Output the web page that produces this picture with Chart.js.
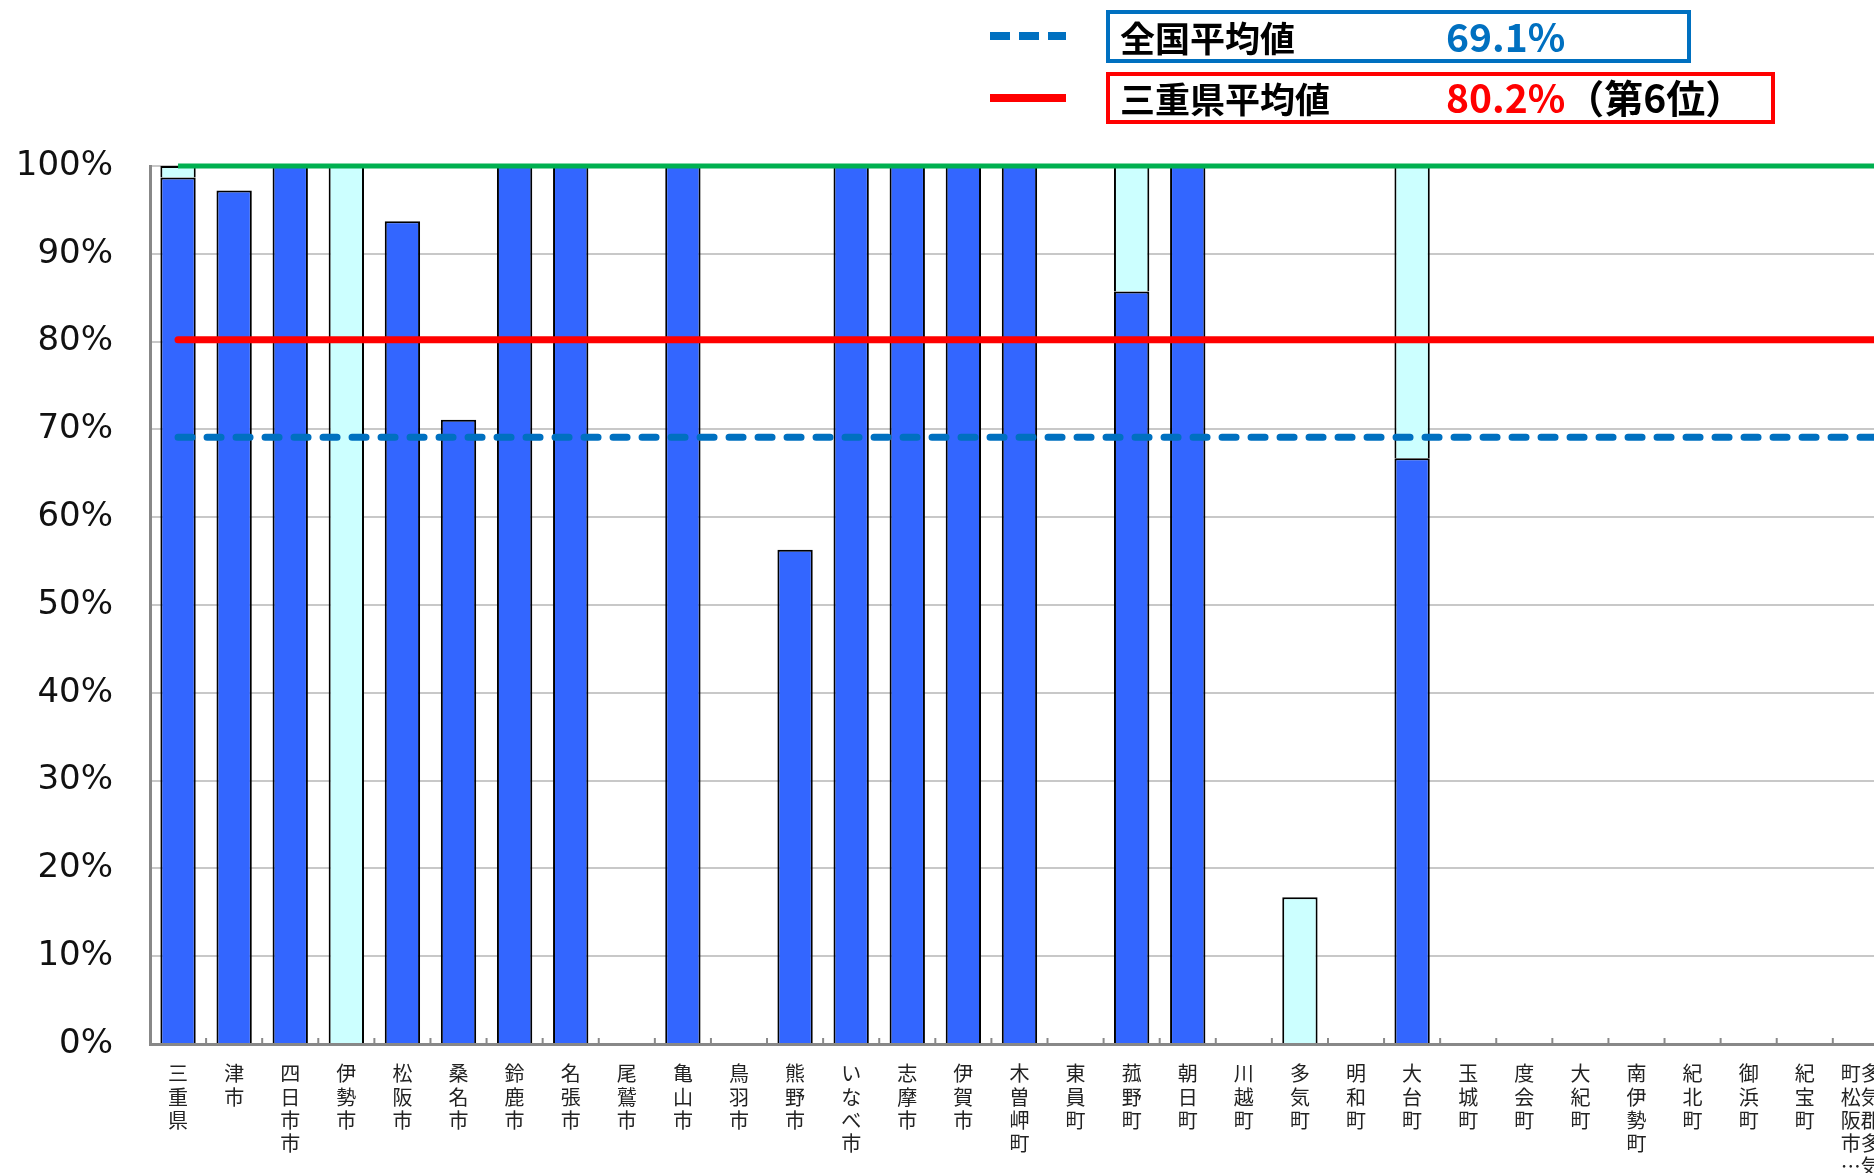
<!DOCTYPE html>
<html><head><meta charset="utf-8">
<script src="https://cdn.jsdelivr.net/npm/chart.js@4"></script>
<style>
html,body{margin:0;padding:0;background:#fff;overflow:hidden;width:1874px;height:1173px;position:relative}
#wrap{position:absolute;left:0;top:0;width:1950px;height:1173px}
.box{position:absolute;box-sizing:border-box;border:4px solid;background:#fff}
.t{position:absolute;font-family:"Noto Sans CJK JP";font-weight:bold;font-size:35px;line-height:1;white-space:nowrap}
.n{font-size:39px}
</style></head>
<body>
<div id="wrap"><canvas id="c" width="1950" height="1173"></canvas></div>
<svg style="position:absolute;left:0;top:0" width="1874" height="140">
  <line x1="990" y1="36" x2="1066" y2="36" stroke="#0070C0" stroke-width="8" stroke-dasharray="20 9"/>
  <line x1="990" y1="98" x2="1066" y2="98" stroke="#FF0000" stroke-width="8"/>
</svg>
<div class="box" style="left:1106px;top:10px;width:585px;height:53px;border-color:#0070C0"></div>
<div class="box" style="left:1106px;top:72px;width:669px;height:52px;border-color:#FF0000"></div>
<div class="t" style="left:1120px;top:19px;color:#000">全国平均値</div>
<div class="t n" style="left:1446px;top:16px;color:#0070C0">69.1%</div>
<div class="t" style="left:1120px;top:80px;color:#000">三重県平均値</div>
<div class="t n" style="left:1446px;top:77px"><span style="color:#FF0000">80.2%</span><span style="color:#000">（第6位）</span></div>
<script>
const categories = ['三重県','津市','四日市市','伊勢市','松阪市','桑名市','鈴鹿市','名張市','尾鷲市','亀山市','鳥羽市','熊野市','いなべ市','志摩市','伊賀市','木曽岬町','東員町','菰野町','朝日町','川越町','多気町','明和町','大台町','玉城町','度会町','大紀町','南伊勢町','紀北町','御浜町','紀宝町','多気郡多気町松阪市…',''];
const seriesMain = [98.7,97.2,100,0,93.7,71.1,100,100,0,100,0,56.3,100,100,100,100,0,85.7,100,0,0,0,66.7,0,0,0,0,0,0,0,0,0];
const seriesSub  = [1.3,0,0,100,0,0,0,0,0,0,0,0,0,0,0,0,0,14.3,0,0,16.7,0,33.3,0,0,0,0,0,0,0,0,0];
const nationalAvg = 69.1;
const prefAvg = 80.2;
const fullLine = 100;
const yTickValues = [0,10,20,30,40,50,60,70,80,90,100];

function verticalLabel(name){
  const ch = Array.from(name);
  if (ch.length <= 5) return ch;
  const c1 = ch.slice(0,5), c2 = ch.slice(5,10);
  return c1.map((c,i)=>(c2[i]||'　')+c);
}

const tickMarks = {
  id:'tickMarks',
  afterDraw(chart){
    const xs = chart.scales.x, c = chart.ctx, y = xs.top;
    c.save(); c.strokeStyle='#888'; c.lineWidth=2;
    for(let i=1;i<categories.length;i++){
      const x = (xs.getPixelForValue(i-1)+xs.getPixelForValue(i))/2;
      c.beginPath(); c.moveTo(x,y-6); c.lineTo(x,y); c.stroke();
    }
    c.restore();
  }
};

new Chart(document.getElementById('c'), {
  type:'bar',
  data:{
    labels:categories,
    datasets:[
      {type:'line',label:'全国平均値',data:categories.map(()=>nationalAvg),borderColor:'#0070C0',borderWidth:7,borderDash:[14,15],borderCapStyle:'round',pointRadius:0,stack:'n',order:0,clip:false},
      {type:'line',label:'三重県平均値',data:categories.map(()=>prefAvg),borderColor:'#FF0000',borderWidth:7,borderCapStyle:'round',pointRadius:0,stack:'p',order:0,clip:false},
      {type:'line',label:'100%',data:categories.map(()=>fullLine),borderColor:'#00B050',borderWidth:5,pointRadius:0,stack:'f',order:0,clip:false},
      {label:'main',data:seriesMain.map(v=>v||null),backgroundColor:'#3366FF',borderColor:'#000',borderWidth:2,stack:'bar',order:1,barPercentage:0.63,categoryPercentage:1},
      {label:'sub',data:seriesSub.map(v=>v||null),backgroundColor:'#CCFFFF',borderColor:'#000',borderWidth:2,stack:'bar',order:1,barPercentage:0.63,categoryPercentage:1}
    ]
  },
  options:{
    responsive:false, animation:false, devicePixelRatio:1,
    layout:{padding:{top:166,right:5,left:0,bottom:0}},
    plugins:{legend:{display:false},tooltip:{enabled:false}},
    scales:{
      x:{
        stacked:true,
        grid:{display:true,drawOnChartArea:false,drawTicks:false},
        border:{color:'#888',width:3},
        ticks:{autoSkip:false,maxRotation:0,minRotation:0,padding:18,color:'#222',
          font:{family:'"Noto Sans CJK JP"',size:20,lineHeight:1.165},
          callback:function(v,i){return verticalLabel(categories[i]);}},
        afterFit(s){s.height=129;}
      },
      y:{
        stacked:true,min:0,max:100,
        afterBuildTicks(s){s.ticks=yTickValues.map(v=>({value:v}));},
        ticks:{padding:37,color:'#111',font:{family:'"DejaVu Sans"',size:34},callback:v=>v+'%'},
        grid:{color:'#C8C8C8',lineWidth:2,drawTicks:false},
        border:{color:'#888',width:3},
        afterFit(s){s.width=150;}
      }
    }
  },
  plugins:[tickMarks]
});
</script>
</body></html>
